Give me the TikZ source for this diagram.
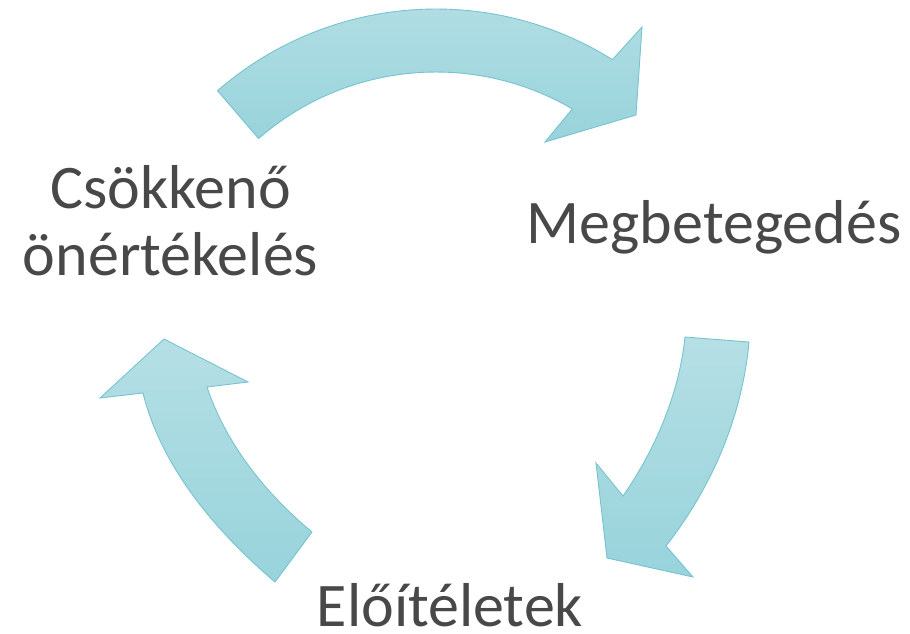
\documentclass[tikz,border=0pt]{standalone}
\usepackage{fontspec}
\setmainfont{Carlito}
\definecolor{arrtop}{RGB}{181,223,229}
\definecolor{arrbot}{RGB}{152,211,219}
\definecolor{arredge}{RGB}{118,196,207}
\definecolor{txt}{RGB}{72,72,72}
\begin{document}
\begin{tikzpicture}[x=1pt,y=-1pt,
  cyclearrow/.style={draw=arredge, line width=0.9pt, top color=arrtop, bottom color=arrbot, line join=miter},
  lbl/.style={inner sep=0pt, text=txt, font=\fontsize{62}{66}\selectfont, anchor=base}]
\useasboundingbox (0,0) rectangle (910,633);
% top arrow
\path[cyclearrow] (217.5,90.7) arc[start angle=-131, end angle=-58, radius=333]
  -- (642,27) -- (636,115) -- (545,142) -- (572.3,108.9)
  arc[start angle=-59.7, end angle=-131.1, radius=270] -- cycle;
% right arrow
\path[cyclearrow] (685,337) -- (749,342) .. controls (742,417) and (712,487) .. (666,546)
  -- (693,577) -- (607,558) -- (596,463) -- (623,496)
  .. controls (655.5,449) and (679,394) .. (685,337) -- cycle;
% left arrow
\path[cyclearrow] (275,582) .. controls (216.5,532) and (161.5,468) .. (143,393)
  -- (100,398) -- (164,339) -- (248,382) -- (207,387)
  .. controls (226,444) and (266,494) .. (312,532) -- cycle;
% labels
\node[lbl] (megb) at (714,243) {Megbetegedés};
\node[lbl] (elo) at (450,626) {Előítéletek};
\node[lbl] (csok1) at (170.5,208) {Csökkenő};
\node[lbl] (csok2) at (170.5,275) {önértékelés};
\end{tikzpicture}
\end{document}
